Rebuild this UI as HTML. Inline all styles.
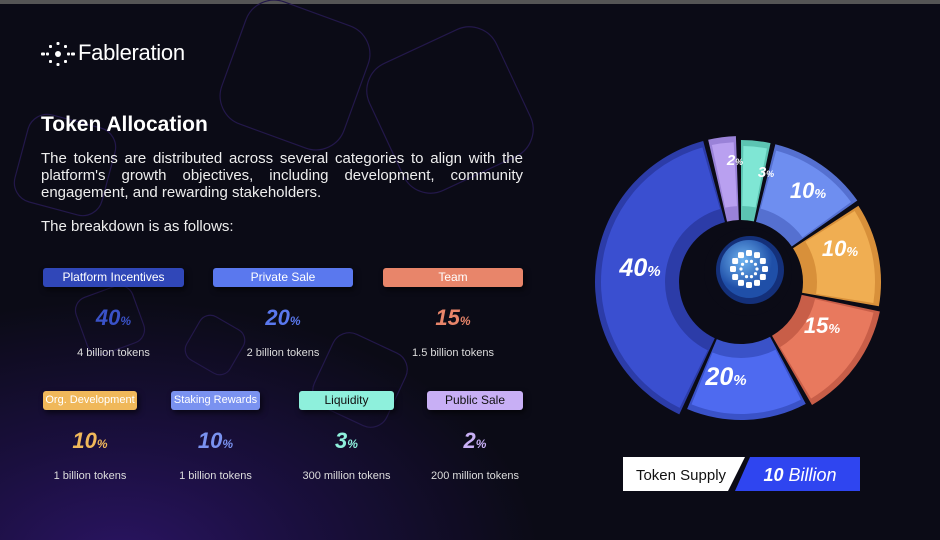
<!DOCTYPE html>
<html><head><meta charset="utf-8"><style>
*{margin:0;padding:0;box-sizing:border-box}
html,body{width:940px;height:540px;overflow:hidden}
body{background:#0b0b16;font-family:"Liberation Sans",sans-serif;color:#fff;position:relative}
.bg{position:absolute;inset:0;background:radial-gradient(ellipse 420px 260px at 120px 560px,#2a1462 0%,#1a0f3e 45%,rgba(11,11,22,0) 100%)}
.top{position:absolute;left:0;top:0;width:940px;height:4px;background:#555}
.a{position:absolute}
.pill{position:absolute;height:19px;border-radius:3px;font-size:12px;line-height:19px;text-align:center;white-space:nowrap;overflow:hidden;box-shadow:2px 3px 6px rgba(0,0,0,.6)}
.pct{position:absolute;font-weight:bold;font-style:italic;font-size:22px;text-align:center}
.pct small{font-size:12px}
.sub{position:absolute;font-size:11px;color:#ddd;text-align:center;white-space:nowrap}
.ln{position:absolute;left:41px;width:482px;font-size:15px;line-height:17px;color:#eee;text-align:justify;text-align-last:justify;white-space:nowrap}
</style></head><body>
<div class="bg"></div>
<div class="top"></div>
<svg class="a" style="left:0;top:0" width="940" height="540">
<g fill="none" stroke="#23184a" stroke-width="1.2">
<rect x="230" y="10" width="130" height="130" rx="30" transform="rotate(20 295 75)"/>
<rect x="380" y="40" width="140" height="140" rx="30" transform="rotate(-25 450 110)"/>
<rect x="80" y="290" width="60" height="60" rx="14" transform="rotate(-20 110 320)"/>
<rect x="190" y="320" width="50" height="50" rx="12" transform="rotate(30 215 345)"/>
<rect x="320" y="340" width="80" height="80" rx="18" transform="rotate(25 360 380)"/>
<rect x="20" y="120" width="90" height="90" rx="20" transform="rotate(15 65 165)"/>
</g>
</svg>
<svg class="a" style="left:40px;top:40px" width="36" height="28" viewBox="0 0 36 28">
<g fill="#fff"><circle cx="18" cy="14" r="3"/>
<rect x="16.5" y="2" width="3" height="3" rx="1"/><rect x="16.5" y="23" width="3" height="3" rx="1"/><rect x="6" y="12.5" width="3" height="3" rx="1"/><rect x="27" y="12.5" width="3" height="3" rx="1"/><rect x="9" y="5" width="3" height="3" rx="1"/><rect x="24" y="5" width="3" height="3" rx="1"/><rect x="9" y="20" width="3" height="3" rx="1"/><rect x="24" y="20" width="3" height="3" rx="1"/><rect x="1" y="12.5" width="4" height="3" rx="1"/><rect x="31" y="12.5" width="4" height="3" rx="1"/></g></svg>
<div class="a" style="left:78px;top:40px;font-size:22px;letter-spacing:-.3px">Fableration</div>
<div class="a" style="left:41px;top:113px;font-size:21px;font-weight:bold">Token Allocation</div>
<div class="ln" style="top:150px">The tokens are distributed across several categories to align with the</div>
<div class="ln" style="top:167px">platform's growth objectives, including development, community</div>
<div class="a" style="left:41px;top:184px;font-size:15px;line-height:17px;color:#eee">engagement, and rewarding stakeholders.</div>
<div class="a" style="left:41px;top:218px;font-size:15px;line-height:17px;color:#eee">The breakdown is as follows:</div>

<div class="pill" style="left:43px;top:268px;width:141px;background:#3047b8">Platform Incentives</div>
<div class="pill" style="left:213px;top:268px;width:140px;background:#5a78ee">Private Sale</div>
<div class="pill" style="left:383px;top:268px;width:140px;background:#e8856a">Team</div>
<div class="pct" style="left:43px;top:305px;width:141px;color:#3a52c8">40<small>%</small></div>
<div class="pct" style="left:213px;top:305px;width:140px;color:#5a78ee">20<small>%</small></div>
<div class="pct" style="left:383px;top:305px;width:140px;color:#e8856a">15<small>%</small></div>
<div class="sub" style="left:43px;top:347px;width:141px">4 billion tokens</div>
<div class="sub" style="left:213px;top:347px;width:140px">2 billion tokens</div>
<div class="sub" style="left:383px;top:347px;width:140px">1.5 billion tokens</div>

<div class="pill" style="left:43px;top:391px;width:94px;background:#f0b85a;font-size:11px">Org. Development</div>
<div class="pill" style="left:171px;top:391px;width:89px;background:#7a92f0;font-size:11px">Staking Rewards</div>
<div class="pill" style="left:299px;top:391px;width:95px;background:#8ef0dc;color:#111">Liquidity</div>
<div class="pill" style="left:427px;top:391px;width:96px;background:#c8aff5;color:#111">Public Sale</div>
<div class="pct" style="left:43px;top:428px;width:94px;color:#f0b85a">10<small>%</small></div>
<div class="pct" style="left:171px;top:428px;width:89px;color:#7a92f0">10<small>%</small></div>
<div class="pct" style="left:299px;top:428px;width:95px;color:#8ef0dc">3<small>%</small></div>
<div class="pct" style="left:427px;top:428px;width:96px;color:#c8aff5">2<small>%</small></div>
<div class="sub" style="left:43px;top:470px;width:94px">1 billion tokens</div>
<div class="sub" style="left:171px;top:470px;width:89px">1 billion tokens</div>
<div class="sub" style="left:289px;top:470px;width:115px">300 million tokens</div>
<div class="sub" style="left:415px;top:470px;width:120px">200 million tokens</div>

<svg class="a" style="left:0;top:0" width="940" height="540" id="d"></svg>
<script>
var cx=741,cy=282,R=146,r=62;
function pt(a,rr){a=(a-90)*Math.PI/180;return [cx+rr*Math.cos(a),cy+rr*Math.sin(a)];}
function arc(a0,a1,ro,ri,c){var p0=pt(a0,ro),p1=pt(a1,ro),p2=pt(a1,ri),p3=pt(a0,ri),l=(a1-a0)>180?1:0;
return '<path fill="'+c+'" d="M'+p0+' A'+ro+','+ro+' 0 '+l+' 1 '+p1+' L'+p2+' A'+ri+','+ri+' 0 '+l+' 0 '+p3+'Z"/>';}
var s=[[205,345,'#3a4fd0','#2c3ca8',146],[347,358,'#b9a0f0','#9a82d8',146],[360,372,'#7fe6d4','#5cc4b2',142],[374,415,'#6e8ef0','#5570d0',142],[417,460,'#f0ae52','#d8903a',140],[462,510,'#e8795e','#c85e48',142],[512,563,'#4e6af0','#3a52c8',138]];
var h='';
s.forEach(function(q){h+=arc(q[0],q[1],q[4],r,q[3]);h+=arc(q[0]+1,q[1]-1,q[4]-6,r+14,q[2]);});
h+='<circle cx="748" cy="272" r="44" fill="#0b0b16"/>';
h+='<defs><radialGradient id="g" cx="40%" cy="35%"><stop offset="0" stop-color="#6fb4f0"/><stop offset="1" stop-color="#1f4fa8"/></radialGradient></defs>';
h+='<circle cx="750" cy="270" r="34" fill="#14307a"/><circle cx="749" cy="269" r="29" fill="url(#g)"/>';
for(var i=0;i<12;i++){var a=i*30*Math.PI/180;h+='<rect x="'+(749+16*Math.cos(a)-3)+'" y="'+(269+16*Math.sin(a)-3)+'" width="6" height="6" rx="1.5" fill="#fff"/>';}
for(var i=0;i<10;i++){var a=i*36*Math.PI/180;h+='<circle cx="'+(749+8*Math.cos(a))+'" cy="'+(269+8*Math.sin(a))+'" r="1.6" fill="#fff"/>';}
var L=[['40',640,276,25],['2',735,165,15],['3',766,177,15],['10',808,198,22],['10',840,256,22],['15',822,333,22],['20',726,385,25]];
L.forEach(function(l){h+='<text x="'+l[1]+'" y="'+l[2]+'" fill="#fff" font-family="Liberation Sans" font-weight="bold" font-style="italic" font-size="'+l[3]+'" text-anchor="middle">'+l[0]+'<tspan font-size="'+(l[3]*0.6)+'">%</tspan></text>';});
h+='<path d="M623 457 H745 L728 491 H623 Z" fill="#fff"/><path d="M750 457 H860 V491 H735 Z" fill="#2f45f0"/>';
h+='<text x="681" y="480" fill="#111" font-family="Liberation Sans" font-size="15" text-anchor="middle">Token Supply</text>';
h+='<text x="800" y="481" fill="#fff" font-family="Liberation Sans" font-size="18" font-style="italic" text-anchor="middle"><tspan font-weight="bold">10</tspan> Billion</text>';
document.getElementById('d').innerHTML=h;
</script>
</body></html>
